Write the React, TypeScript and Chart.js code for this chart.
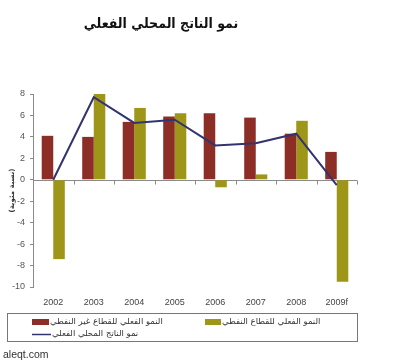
import React, { useEffect, useRef } from "react";
import { Chart, registerables } from "chart.js";

Chart.register(...registerables);

const categories = ["2002", "2003", "2004", "2005", "2006", "2007", "2008", "2009f"];
const nonOilGrowth = [4.1, 4.0, 5.4, 5.9, 6.2, 5.8, 4.3, 2.6];
const oilGrowth = [-7.4, 8.0, 6.7, 6.2, -0.7, 0.5, 5.5, -9.5];
const gdpGrowth = [0, 7.7, 5.3, 5.6, 3.2, 3.4, 4.3, -0.5];
const yTicks = [8, 6, 4, 2, 0, -2, -4, -6, -8, -10];

const titleText = "نمو الناتج المحلي الفعلي";
const yAxisTitle = "(نسبة مئوية)";
const nonOilLabel = "النمو الفعلي للقطاع غير النفطي";
const oilLabel = "النمو الفعلي للقطاع النفطي";
const gdpLabel = "نمو الناتج المحلي الفعلي";
const watermark = "aleqt.com";

const RED = "#8C2E25";
const OLIVE = "#9E9619";
const NAVY = "#33336F";
const AXIS = "#8A8A8A";
const ARABIC_FONT = "'DejaVu Sans', sans-serif";
const TITLE_FONT = "'DejaVu Sans Condensed', 'DejaVu Sans', sans-serif";
const LATIN_FONT = "'Liberation Sans', Arial, sans-serif";

const decorPlugin = {
  id: "decor",
  beforeDatasetsDraw(chart: any) {
    const ctx = chart.ctx;
    const y = chart.scales.y;
    const area = chart.chartArea;
    const y0 = Math.round(y.getPixelForValue(0)) + 0.5;
    ctx.save();
    ctx.strokeStyle = AXIS;
    ctx.lineWidth = 1;
    ctx.beginPath();
    ctx.moveTo(area.left, y0);
    ctx.lineTo(area.right, y0);
    const n = categories.length;
    const w = (area.right - area.left) / n;
    for (let i = 0; i <= n; i++) {
      const px = Math.round(area.left + i * w) + 0.5;
      ctx.moveTo(px, y0);
      ctx.lineTo(px, y0 + 4);
    }
    ctx.stroke();
    ctx.restore();
  },
  afterDraw(chart: any) {
    const ctx = chart.ctx;
    const area = chart.chartArea;
    ctx.save();
    // title
    ctx.fillStyle = "#111";
    ctx.font = `bold 14px ${TITLE_FONT}`;
    ctx.textAlign = "center";
    ctx.textBaseline = "middle";
    ctx.fillText(titleText, 161, 24);

    // y axis title
    ctx.save();
    ctx.translate(12, (area.top + area.bottom) / 2);
    ctx.rotate(-Math.PI / 2);
    ctx.font = `bold 7px ${ARABIC_FONT}`;
    ctx.fillStyle = "#333";
    ctx.textAlign = "center";
    ctx.textBaseline = "middle";
    ctx.fillText(yAxisTitle, 0, 0);
    ctx.restore();

    // legend box
    ctx.strokeStyle = "#777";
    ctx.lineWidth = 1;
    ctx.strokeRect(7.5, 313.5, 350, 28);

    ctx.font = `8.5px ${ARABIC_FONT}`;
    ctx.textAlign = "left";
    ctx.textBaseline = "middle";

    ctx.fillStyle = RED;
    ctx.fillRect(32, 319, 17, 6);
    ctx.fillStyle = "#333";
    ctx.fillText(nonOilLabel, 50, 322);

    ctx.fillStyle = OLIVE;
    ctx.fillRect(205, 319, 16, 6);
    ctx.fillStyle = "#333";
    ctx.fillText(oilLabel, 222, 322);

    ctx.strokeStyle = NAVY;
    ctx.lineWidth = 1.5;
    ctx.beginPath();
    ctx.moveTo(32, 334.5);
    ctx.lineTo(51, 334.5);
    ctx.stroke();
    ctx.fillStyle = "#333";
    ctx.fillText(gdpLabel, 52, 334);

    // watermark
    ctx.font = `10.5px ${LATIN_FONT}`;
    ctx.fillStyle = "#333";
    ctx.fillText(watermark, 3, 355);
    ctx.restore();
  },
};

export default function App() {
  const ref = useRef<HTMLCanvasElement | null>(null);

  useEffect(() => {
    if (!ref.current) return;
    const chart = new Chart(ref.current, {
      type: "bar",
      data: {
        labels: categories,
        datasets: [
          {
            type: "line",
            label: gdpLabel,
            data: gdpGrowth,
            borderColor: NAVY,
            backgroundColor: NAVY,
            borderWidth: 2,
            pointRadius: 0,
            tension: 0,
            order: 0,
          } as any,
          {
            label: nonOilLabel,
            data: nonOilGrowth,
            backgroundColor: RED,
            categoryPercentage: 0.57,
            barPercentage: 1,
            order: 1,
          },
          {
            label: oilLabel,
            data: oilGrowth,
            backgroundColor: OLIVE,
            categoryPercentage: 0.57,
            barPercentage: 1,
            order: 1,
          },
        ],
      },
      options: {
        responsive: false,
        animation: false,
        layout: { padding: { top: 94, right: 43, left: 0, bottom: 0 } },
        plugins: {
          legend: { display: false },
          tooltip: { enabled: false },
          title: { display: false },
        },
        scales: {
          x: {
            offset: true,
            grid: { display: false },
            border: { display: false },
            ticks: {
              color: "#444",
              font: { family: LATIN_FONT, size: 9 },
              padding: 2,
              maxRotation: 0,
              autoSkip: false,
            },
            afterFit: (s: any) => {
              s.height = 74;
            },
          },
          y: {
            min: -10,
            max: 8,
            afterBuildTicks: (s: any) => {
              s.ticks = yTicks.map((v) => ({ value: v }));
            },
            grid: {
              drawOnChartArea: false,
              drawTicks: true,
              tickLength: 3,
              color: AXIS,
            },
            border: { display: true, color: AXIS },
            ticks: {
              color: "#555",
              font: { family: LATIN_FONT, size: 9 },
              padding: 5,
            },
            afterFit: (s: any) => {
              s.width = 33;
            },
          },
        },
      },
      plugins: [decorPlugin],
    });
    return () => chart.destroy();
  }, []);

  return (
    <div style={{ position: "absolute", left: 0, top: 0, width: 400, height: 361, background: "#fff" }}>
      <canvas ref={ref} width={400} height={361} />
    </div>
  );
}
